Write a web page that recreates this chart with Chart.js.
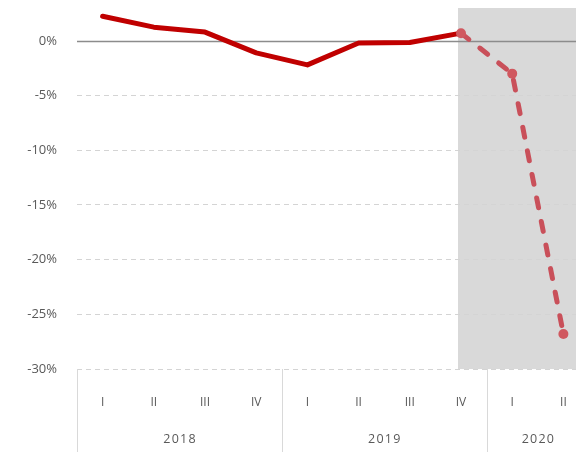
<!DOCTYPE html>
<html>
<head>
<meta charset="utf-8">
<script src="https://cdn.jsdelivr.net/npm/chart.js@4.4.0/dist/chart.umd.min.js"></script>
<style>
html, body { margin: 0; padding: 0; overflow: hidden; background: #fff; }
#wrap { width: 594px; height: 452px; }
</style>
</head>
<body>
<div id="wrap"><canvas id="gdpChart" width="594" height="452"></canvas></div>
<script>
const quarters = ['I', 'II', 'III', 'IV', 'I', 'II', 'III', 'IV', 'I', 'II'];
const years = ['2018', '2019', '2020'];
const yearSpans = [4, 4, 2];
const growth = [2.25, 1.25, 0.8, -1.1, -2.2, -0.2, -0.15, 0.7, -3.0, -26.8];
const yTicks = [-30, -25, -20, -15, -10, -5, 0];
const forecastFrom = 7;

const textColor = '#595959';
const solidRed = '#c00000';
const softRed = '#c9505a';

const decor = {
    id: 'decor',
    beforeDraw(chart) {
        const { ctx, chartArea, scales: { x } } = chart;
        const left = x.getPixelForValue(forecastFrom) - 3;
        ctx.save();
        ctx.fillStyle = '#d9d9d9';
        ctx.fillRect(left, chartArea.top, chart.width - left, chartArea.bottom - chartArea.top);
        ctx.restore();
    },
    beforeDatasetsDraw(chart) {
        const { ctx, chartArea, scales: { y } } = chart;
        const zy = Math.round(y.getPixelForValue(0)) + 0.5;
        ctx.save();
        ctx.strokeStyle = '#8c8c8c';
        ctx.lineWidth = 1.5;
        ctx.beginPath();
        ctx.moveTo(chartArea.left, zy);
        ctx.lineTo(chart.width, zy);
        ctx.stroke();
        ctx.restore();
    },
    afterDraw(chart) {
        const { ctx, chartArea, scales: { x } } = chart;
        ctx.save();
        ctx.strokeStyle = '#d9d9d9';
        ctx.lineWidth = 1;
        ctx.fillStyle = textColor;
        ctx.font = '12.5px "Open Sans", sans-serif';
        ctx.textAlign = 'center';
        ctx.textBaseline = 'middle';
        let start = 0;
        yearSpans.forEach((span, i) => {
            const edge = start === 0
                ? chartArea.left
                : (x.getPixelForValue(start - 1) + x.getPixelForValue(start)) / 2;
            const ex = Math.round(edge) + 0.5;
            ctx.beginPath();
            ctx.moveTo(ex, chartArea.bottom);
            ctx.lineTo(ex, chart.height);
            ctx.stroke();
            const mid = (x.getPixelForValue(start) + x.getPixelForValue(start + span - 1)) / 2;
            ctx.fillText(years[i].split('').join(String.fromCharCode(8202)), mid, 439);
            start += span;
        });
        ctx.restore();
    }
};

const ctx = document.getElementById('gdpChart').getContext('2d');

new Chart(ctx, {
    type: 'line',
    data: {
        labels: quarters,
        datasets: [{
            data: growth,
            borderColor: solidRed,
            borderWidth: 5,
            borderCapStyle: 'round',
            borderJoinStyle: 'round',
            tension: 0,
            pointRadius: c => c.dataIndex >= forecastFrom ? 5 : 0,
            pointBackgroundColor: '#d0585f',
            pointBorderWidth: 0,
            segment: {
                borderColor: c => c.p0DataIndex >= forecastFrom ? softRed : undefined,
                borderDash: c => c.p0DataIndex >= forecastFrom ? [10, 14] : undefined
            }
        }]
    },
    options: {
        responsive: false,
        animation: false,
        layout: { padding: { top: 8, left: 0, right: 0, bottom: 0 } },
        plugins: {
            legend: { display: false },
            tooltip: { enabled: false }
        },
        scales: {
            x: {
                offset: true,
                grid: { display: false, drawTicks: false, offset: true },
                border: { display: false },
                afterFit: scale => { scale.height = 83; },
                ticks: {
                    color: textColor,
                    font: { family: '"Open Sans", sans-serif', size: 12 },
                    padding: 26,
                    maxRotation: 0,
                    autoSkip: false
                }
            },
            y: {
                min: -30,
                max: 3,
                afterBuildTicks: scale => { scale.ticks = yTicks.map(v => ({ value: v })); },
                afterFit: scale => { scale.width = 77; scale.paddingTop = 0; scale.paddingBottom = 0; },
                grid: {
                    drawTicks: false,
                    color: c => c.tick && c.tick.value === 0 ? 'rgba(0,0,0,0)' : '#d4d4d4',
                    lineWidth: 1
                },
                border: { display: false, dash: [5, 4] },
                ticks: {
                    color: textColor,
                    font: { family: '"Open Sans", sans-serif', size: 13 },
                    padding: 20,
                    callback: v => v + '%'
                }
            }
        }
    },
    plugins: [decor]
});
</script>
</body>
</html>
